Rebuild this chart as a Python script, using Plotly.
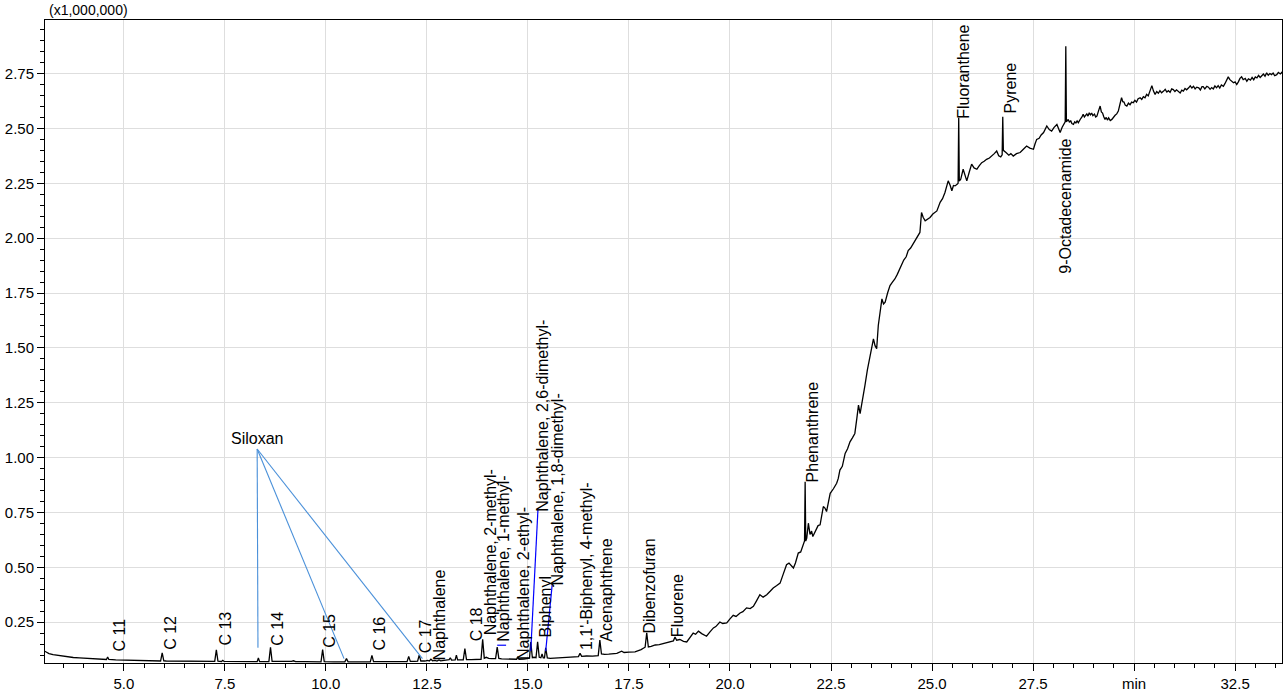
import plotly.graph_objects as go

# Total ion chromatogram, retention time in minutes and intensity in millions of counts.
# Early part: baseline with the alkane and naphthalene peaks
rt_early = [
    3.04, 3.08, 3.15, 3.25, 3.35, 3.45, 3.6, 3.75, 3.9, 4.05, 4.2, 4.35, 4.5, 4.57, 4.60, 4.63,
    4.8, 5.0, 5.2, 5.4, 5.6, 5.8, 5.91, 5.95, 5.99, 6.05, 6.3, 6.6, 6.9, 7.1, 7.25, 7.29, 7.33,
    7.42, 7.45, 7.48, 7.7, 8.0, 8.2, 8.30, 8.33, 8.36, 8.59, 8.63, 8.67, 8.9, 9.15, 9.2, 9.25,
    9.5, 9.7, 9.88, 9.92, 9.96, 10.2, 10.47, 10.51, 10.55, 10.8, 11.1, 11.14, 11.18, 11.5, 11.8,
    12.01, 12.05, 12.09, 12.2, 12.27, 12.31, 12.35, 12.45, 12.52, 12.56, 12.6, 12.64, 12.7,
    12.75, 12.8, 12.84, 12.95, 13.05, 13.08, 13.11, 13.2, 13.23, 13.26, 13.35, 13.40, 13.44,
    13.48, 13.6, 13.75, 13.84, 13.88, 13.92, 13.97, 14.03, 14.1, 14.2, 14.24, 14.28, 14.35,
    14.45, 14.55, 14.65, 14.72, 14.75, 14.78, 14.9, 15.0, 15.04, 15.07, 15.11, 15.15, 15.20,
    15.24, 15.28, 15.32, 15.35, 15.38, 15.41, 15.44, 15.48, 15.55, 15.65, 15.8, 15.95, 16.05,
    16.15, 16.25, 16.29, 16.33, 16.45, 16.6, 16.74, 16.78, 16.82, 16.9, 17.0, 17.1, 17.2, 17.32,
    17.38, 17.5, 17.65, 17.8, 17.9, 17.94, 17.98, 18.05, 18.15, 18.25, 18.35, 18.45, 18.55,
    18.6, 18.64, 18.68, 18.76, 18.85, 18.93,
]
tic_early = [
    0.118, 0.113, 0.107, 0.102, 0.099, 0.095, 0.092, 0.089, 0.087, 0.085, 0.084, 0.082, 0.081, 0.080, 0.091, 0.080,
    0.078, 0.077, 0.076, 0.075, 0.074, 0.073, 0.073, 0.110, 0.074, 0.073, 0.072, 0.072, 0.071, 0.071, 0.071, 0.124, 0.072,
    0.071, 0.076, 0.071, 0.070, 0.070, 0.070, 0.070, 0.087, 0.070, 0.070, 0.136, 0.071, 0.070, 0.071, 0.074, 0.070,
    0.070, 0.069, 0.069, 0.125, 0.070, 0.069, 0.069, 0.084, 0.069, 0.069, 0.069, 0.099, 0.070, 0.070, 0.070,
    0.070, 0.094, 0.071, 0.071, 0.072, 0.100, 0.073, 0.073, 0.076, 0.073, 0.081, 0.074, 0.076,
    0.073, 0.078, 0.074, 0.077, 0.079, 0.088, 0.077, 0.078, 0.100, 0.078, 0.078, 0.078, 0.130,
    0.079, 0.079, 0.080, 0.081, 0.172, 0.086, 0.090, 0.085, 0.084, 0.084, 0.136, 0.085, 0.083,
    0.082, 0.081, 0.080, 0.081, 0.092, 0.081, 0.082, 0.084, 0.086, 0.160, 0.088, 0.090, 0.088,
    0.160, 0.090, 0.088, 0.105, 0.087, 0.087, 0.133, 0.087, 0.085, 0.086, 0.088, 0.089, 0.091,
    0.090, 0.093, 0.108, 0.094, 0.096, 0.095, 0.098, 0.168, 0.105, 0.103, 0.104, 0.105, 0.108, 0.118,
    0.112, 0.114, 0.115, 0.125, 0.136, 0.201, 0.137, 0.140, 0.146, 0.148, 0.152, 0.158, 0.163,
    0.165, 0.182, 0.168, 0.171, 0.163, 0.160,
]

# Middle part: rising column bleed with phenanthrene, fluoranthene, pyrene, 9-octadecenamide
rt_mid = [
    19.0, 19.09, 19.15, 19.22, 19.3, 19.42, 19.5,
    19.59, 19.65, 19.75, 19.82, 19.92, 20.0, 20.08, 20.15, 20.25, 20.32, 20.41, 20.5, 20.58,
    20.65, 20.74, 20.82, 20.91, 21.0, 21.07, 21.15, 21.24, 21.32, 21.40, 21.46, 21.52, 21.57,
    21.62, 21.69, 21.75, 21.81, 21.845, 21.86, 21.875, 21.90, 21.94, 21.98, 22.02, 22.05,
    22.12, 22.18, 22.23, 22.27, 22.31, 22.35, 22.39, 22.44, 22.48, 22.56, 22.64, 22.68, 22.72,
    22.78, 22.85, 22.91, 22.97, 23.03, 23.09, 23.14, 23.18, 23.22, 23.26, 23.3, 23.34, 23.40,
    23.47, 23.51, 23.55, 23.59, 23.63, 23.67, 23.72, 23.76, 23.80, 23.84, 23.90, 23.96, 24.02,
    24.08, 24.14, 24.2, 24.25, 24.3, 24.36, 24.41, 24.47, 24.52, 24.58, 24.64, 24.70, 24.74,
    24.78, 24.83, 24.9, 24.95, 25.02, 25.08, 25.12, 25.20, 25.26, 25.32, 25.36, 25.40, 25.45,
    25.49, 25.53, 25.57, 25.62, 25.645, 25.66, 25.675, 25.71, 25.74, 25.77, 25.82, 25.86, 25.92,
    25.98, 26.04, 26.11, 26.17, 26.23, 26.29, 26.35, 26.42, 26.48, 26.54, 26.60, 26.65, 26.7,
    26.735, 26.75, 26.765, 26.83, 26.9, 26.95, 27.01, 27.09, 27.18, 27.26, 27.34, 27.42, 27.51,
    27.55, 27.59, 27.65, 27.70, 27.76, 27.80, 27.84, 27.9, 27.96, 28.02, 28.09, 28.13, 28.17,
    28.22, 28.27, 28.295, 28.31, 28.325,
]
tic_mid = [
    0.178, 0.200, 0.195, 0.209, 0.198, 0.186, 0.205,
    0.224, 0.230, 0.251, 0.244, 0.247, 0.265, 0.281, 0.276, 0.292, 0.298, 0.315, 0.312, 0.322,
    0.345, 0.375, 0.364, 0.375, 0.392, 0.406, 0.416, 0.428, 0.470, 0.512, 0.519, 0.505, 0.497,
    0.520, 0.565, 0.570, 0.603, 0.620, 0.890, 0.620, 0.633, 0.701, 0.650, 0.665, 0.640,
    0.668, 0.690, 0.694, 0.730, 0.777, 0.770, 0.754, 0.800, 0.837, 0.858, 0.883, 0.905, 0.943,
    0.960, 1.019, 1.040, 1.072, 1.090, 1.110, 1.180, 1.239, 1.200, 1.239, 1.280, 1.329, 1.400,
    1.466, 1.500, 1.541, 1.510, 1.496, 1.602, 1.660, 1.723, 1.700, 1.708, 1.750, 1.784, 1.800,
    1.814, 1.835, 1.860, 1.874, 1.900, 1.915, 1.943, 1.955, 1.970, 1.988, 2.010, 2.026, 2.117,
    2.095, 2.079, 2.090, 2.094, 2.110, 2.120, 2.124, 2.163, 2.180, 2.208, 2.230, 2.261, 2.240,
    2.216, 2.240, 2.238, 2.245, 2.250, 2.549, 2.260, 2.268, 2.300, 2.314, 2.285, 2.261, 2.300,
    2.337, 2.320, 2.314, 2.330, 2.344, 2.350, 2.359, 2.365, 2.374, 2.385, 2.397, 2.375, 2.370,
    2.380, 2.553, 2.400, 2.390, 2.378, 2.385, 2.374, 2.385, 2.390, 2.405, 2.420, 2.410, 2.405,
    2.430, 2.450, 2.455, 2.470, 2.481, 2.495, 2.511, 2.495, 2.488, 2.505, 2.518, 2.500, 2.481,
    2.505, 2.520, 2.530, 2.874, 2.530,
]

# Late part: noisy plateau up to the end of the run
rt_late = [
    28.37, 28.40, 28.43, 28.46, 28.5, 28.53, 28.56, 28.59, 28.62, 28.65, 28.68, 28.71, 28.74,
    28.77, 28.8, 28.83, 28.86, 28.89, 28.92, 28.95, 28.98, 29.02, 29.05, 29.08, 29.12, 29.16,
    29.19, 29.22, 29.25, 29.28, 29.31, 29.34, 29.37, 29.41, 29.45, 29.49, 29.53, 29.57, 29.61,
    29.65, 29.69, 29.72, 29.75, 29.78, 29.82, 29.86, 29.9, 29.94, 29.98, 30.02, 30.06, 30.1,
    30.15, 30.19, 30.23, 30.27, 30.31, 30.35, 30.38, 30.41, 30.44, 30.48, 30.52, 30.56, 30.6,
    30.64, 30.68, 30.73, 30.77, 30.81, 30.85, 30.89, 30.93, 30.97, 31.01, 31.05, 31.1, 31.14,
    31.18, 31.22, 31.26, 31.3, 31.35, 31.39, 31.43, 31.47, 31.51, 31.55, 31.6, 31.64, 31.68,
    31.71, 31.75, 31.8, 31.84, 31.88, 31.92, 31.96, 32.0, 32.04, 32.08, 32.12, 32.16, 32.21,
    32.25, 32.28, 32.33, 32.37, 32.42, 32.46, 32.5, 32.54, 32.58, 32.62, 32.66, 32.7, 32.75,
    32.79, 32.83, 32.88, 32.92, 32.96, 33.0, 33.04, 33.08, 33.12, 33.16, 33.2, 33.24, 33.28,
    33.32, 33.36, 33.4, 33.44, 33.48, 33.53, 33.57, 33.62, 33.66, 33.70,
]
tic_late = [
    2.541, 2.528, 2.536, 2.522, 2.518, 2.530, 2.525, 2.534, 2.526, 2.540, 2.545, 2.552, 2.564,
    2.552, 2.560, 2.566, 2.556, 2.571, 2.562, 2.570, 2.558, 2.565, 2.552, 2.556, 2.580, 2.602,
    2.575, 2.570, 2.553, 2.541, 2.550, 2.538, 2.548, 2.536, 2.541, 2.552, 2.560, 2.566, 2.579,
    2.610, 2.640, 2.622, 2.620, 2.606, 2.602, 2.615, 2.608, 2.620, 2.617, 2.628, 2.620, 2.635,
    2.640, 2.632, 2.645, 2.640, 2.655, 2.648, 2.665, 2.672, 2.695, 2.670, 2.655, 2.668, 2.660,
    2.672, 2.662, 2.670, 2.678, 2.666, 2.672, 2.664, 2.680, 2.677, 2.668, 2.676, 2.668, 2.661,
    2.674, 2.670, 2.682, 2.676, 2.685, 2.694, 2.684, 2.692, 2.680, 2.688, 2.685, 2.675, 2.690,
    2.690, 2.680, 2.692, 2.688, 2.678, 2.686, 2.680, 2.694, 2.685, 2.695, 2.684, 2.698, 2.692,
    2.705, 2.715, 2.735, 2.722, 2.715, 2.708, 2.712, 2.700, 2.712, 2.728, 2.735, 2.722, 2.728,
    2.715, 2.726, 2.720, 2.732, 2.722, 2.735, 2.730, 2.742, 2.732, 2.740, 2.748, 2.738, 2.753,
    2.742, 2.750, 2.745, 2.752, 2.740, 2.745, 2.755, 2.748, 2.756, 2.750,
]

rt_min = rt_early + rt_mid + rt_late
tic_millions = tic_early + tic_mid + tic_late

# Peak identifications
peak_names = [
    "C 11", "C 12", "C 13", "C 14", "C 15", "C 16", "C 17", "Naphthalene", "C 18",
    "Naphthalene, 2-methyl-", "Naphthalene, 1-methyl-", "Naphthalene, 2-ethyl-",
    "Naphthalene, 2,6-dimethyl-", "Biphenyl", "Naphthalene, 1,8-dimethyl-",
    "1,1'-Biphenyl, 4-methyl-", "Acenaphthene", "Dibenzofuran", "Fluorene",
    "Phenanthrene", "Fluoranthene", "Pyrene", "9-Octadecenamide",
]
peak_rt = [
    4.60, 5.95, 7.29, 8.63, 9.92, 11.14, 12.31, 12.60, 13.44,
    13.88, 14.24, 14.75,
    15.07, 15.24, 15.44,
    16.29, 16.78, 17.94, 18.64,
    21.86, 25.66, 26.75, 28.31,
]

# Where each label sits: (retention time, intensity, x anchor, y anchor, leader line)
label_layout = [
    (4.65, 0.110, "left", "bottom", None),
    (5.93, 0.119, "left", "bottom", None),
    (7.28, 0.141, "left", "bottom", None),
    (8.57, 0.136, "left", "bottom", None),
    (9.85, 0.130, "left", "bottom", None),
    (11.09, 0.118, "left", "bottom", None),
    (12.24, 0.103, "left", "bottom", None),
    (12.57, 0.070, "left", "bottom", None),
    (13.48, 0.158, "left", "bottom", None),
    (13.83, 0.186, "left", "bottom", None),
    (14.17, 0.156, "left", "bottom", (14.46, 0.145, 0.145)),
    (14.64, 0.075, "left", "bottom", None),
    (15.12, 0.750, "left", "bottom", (15.25, 0.769, 0.119)),
    (15.21, 0.178, "left", "bottom", None),
    (15.52, 0.415, "left", "bottom", (15.60, 0.421, 0.118)),
    (16.20, 0.118, "left", "bottom", None),
    (16.70, 0.155, "left", "bottom", None),
    (17.77, 0.193, "left", "bottom", None),
    (18.47, 0.178, "left", "bottom", None),
    (21.81, 0.883, "left", "bottom", None),
    (25.54, 2.541, "left", "bottom", None),
    (26.71, 2.564, "left", "bottom", None),
    (28.31, 2.459, "center", "top", None),
]

# Siloxane group label and the peaks it points to
siloxan_label = (8.29, 1.087)
siloxan_rt = [8.32, 10.45, 12.39]
siloxan_end = [0.133, 0.084, 0.084]

FONT = "Liberation Sans, Arial, sans-serif"

fig = go.Figure()
fig.add_trace(go.Scatter(
    x=rt_min, y=tic_millions, mode="lines",
    line=dict(color="black", width=1.3), hoverinfo="skip", showlegend=False,
))

annotations = []
shapes = []
for name, rt, (lx, ly, xa, ya, leader) in zip(peak_names, peak_rt, label_layout):
    annotations.append(dict(
        x=lx, y=ly, xref="x", yref="y", text=name, textangle=-90,
        showarrow=False, xanchor=xa, yanchor=ya, borderpad=0,
        font=dict(family=FONT, size=16, color="black"),
    ))
    if leader is not None:
        ex, ey, sy = leader
        shapes.append(dict(type="line", xref="x", yref="y", x0=rt, y0=sy, x1=ex, y1=ey,
                           line=dict(color="#0000ff", width=1.2)))

annotations.append(dict(
    x=siloxan_label[0], y=siloxan_label[1], xref="x", yref="y", text="Siloxan",
    showarrow=False, xanchor="center", yanchor="middle",
    font=dict(family=FONT, size=16, color="black"),
))
for rt, end in zip(siloxan_rt, siloxan_end):
    shapes.append(dict(type="line", xref="x", yref="y", x0=siloxan_label[0] + 0.01,
                       y0=siloxan_label[1] - 0.048, x1=rt, y1=end,
                       line=dict(color="#4a90d9", width=1.1)))

annotations.append(dict(
    x=0, y=1, xref="paper", yref="paper", text="(x1,000,000)", showarrow=False,
    xanchor="left", yanchor="bottom", xshift=2, yshift=0,
    font=dict(family=FONT, size=14, color="black"),
))

x_ticks = [5.0, 7.5, 10.0, 12.5, 15.0, 17.5, 20.0, 22.5, 25.0, 27.5, 30.0, 32.5]
x_tick_text = ["5.0", "7.5", "10.0", "12.5", "15.0", "17.5", "20.0", "22.5", "25.0", "27.5", "min", "32.5"]
y_ticks = [0.25, 0.50, 0.75, 1.00, 1.25, 1.50, 1.75, 2.00, 2.25, 2.50, 2.75]
y_tick_text = [f"{v:.2f}" for v in y_ticks]

fig.update_layout(
    width=1286, height=695,
    margin=dict(l=45, r=3, t=20, b=30),
    paper_bgcolor="white", plot_bgcolor="white",
    font=dict(family=FONT, size=15, color="black"),
    annotations=annotations, shapes=shapes,
)
fig.update_xaxes(
    range=[3.05, 33.66], tickmode="array", tickvals=x_ticks, ticktext=x_tick_text,
    ticks="outside", ticklen=7, tickcolor="black", tickwidth=1,
    showgrid=True, gridcolor="#dedede", gridwidth=1,
    showline=True, linecolor="black", linewidth=1, mirror=True, zeroline=False,
    minor=dict(tickmode="linear", tick0=0, dtick=0.5, ticks="outside", ticklen=4,
               tickcolor="black", showgrid=False),
    tickfont=dict(family=FONT, size=15),
)
fig.update_yaxes(
    range=[0.064, 2.994], tickmode="array", tickvals=y_ticks, ticktext=y_tick_text,
    ticks="outside", ticklen=7, tickcolor="black", tickwidth=1,
    showgrid=True, gridcolor="#dedede", gridwidth=1,
    showline=True, linecolor="black", linewidth=1, mirror=True, zeroline=False,
    minor=dict(tickmode="linear", tick0=0, dtick=0.05, ticks="outside", ticklen=4,
               tickcolor="black", showgrid=False),
    tickfont=dict(family=FONT, size=15),
)

fig.write_html("out.html")
